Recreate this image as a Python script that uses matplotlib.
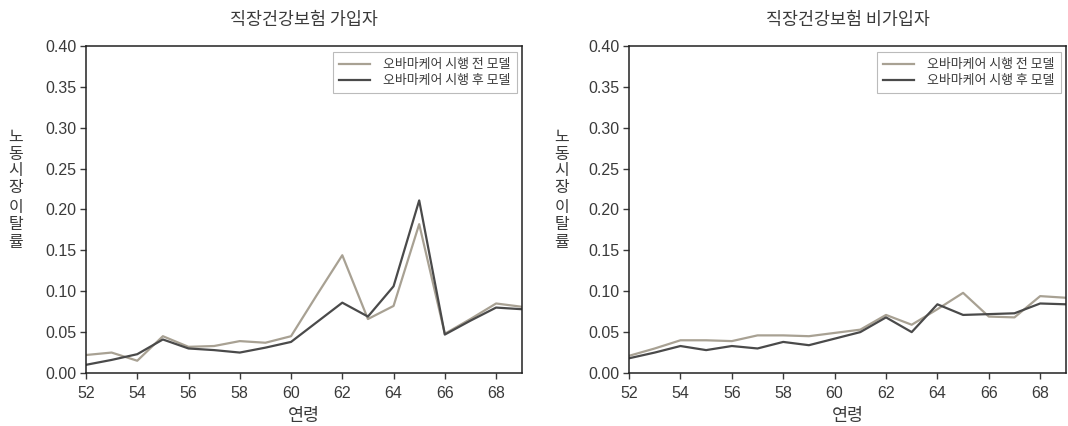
import numpy as np
import matplotlib
matplotlib.use("Agg")
import matplotlib.pyplot as plt

plt.rcParams['font.family'] = ['Liberation Sans', 'Noto Sans CJK KR']

ages = np.arange(52, 70)

# 직장건강보험 가입자
ins_before = [0.022, 0.025, 0.015, 0.045, 0.032, 0.033, 0.039, 0.037, 0.045,
              0.095, 0.144, 0.066, 0.082, 0.182, 0.048, 0.066, 0.085, 0.081]
ins_after = [0.010, 0.016, 0.023, 0.041, 0.030, 0.028, 0.025, 0.031, 0.038,
             0.062, 0.086, 0.069, 0.106, 0.211, 0.047, 0.064, 0.080, 0.078]

# 직장건강보험 비가입자
non_before = [0.021, 0.030, 0.040, 0.040, 0.039, 0.046, 0.046, 0.045, 0.049,
              0.053, 0.071, 0.059, 0.078, 0.098, 0.069, 0.068, 0.094, 0.092]
non_after = [0.018, 0.025, 0.033, 0.028, 0.033, 0.030, 0.038, 0.034, 0.042,
             0.050, 0.068, 0.050, 0.084, 0.071, 0.072, 0.073, 0.085, 0.084]

titles = ["직장건강보험 가입자", "직장건강보험 비가입자"]
labels = ["오바마케어 시행 전 모델", "오바마케어 시행 후 모델"]
ylabel = "노동시장 이탈률"
xlabel = "연령"

c_before = "#a8a193"
c_after = "#4a4a4a"
txt = "#3a3a3a"

W, H = 1068, 426
fig = plt.figure(figsize=(W / 100, H / 100), dpi=100)
ax1 = fig.add_axes([0.0805, 0.1244, 0.408, 0.768])
ax2 = fig.add_axes([0.589, 0.1244, 0.409, 0.768])


def stacked_label(x_px, top_px, text):
    # one character per row, upright, a bit of extra room for the space
    y = top_px
    for ch in text:
        if ch == " ":
            y += 3
            continue
        fig.text(x_px / W, 1 - y / H, ch, fontsize=11.5, color=txt,
                 ha='center', va='center', family='Noto Sans CJK KR')
        y += 17


for ax, title, before, after, lab_x in [(ax1, titles[0], ins_before, ins_after, 16),
                                         (ax2, titles[1], non_before, non_after, 562)]:
    ax.plot(ages, before, color=c_before, lw=1.6, label=labels[0])
    ax.plot(ages, after, color=c_after, lw=1.6, label=labels[1])
    ax.set_xlim(52, 69)
    ax.set_ylim(0, 0.40)
    ax.set_xticks(np.arange(52, 69, 2))
    yt = np.arange(0, 0.41, 0.05)
    ax.set_yticks(yt)
    ax.set_yticklabels([f"{v:.2f}" for v in yt])
    ax.tick_params(direction='out', length=4, width=1, colors=txt, labelsize=11.5)
    ax.tick_params(axis='x', pad=5)
    ax.tick_params(axis='y', pad=3)
    for s in ax.spines.values():
        s.set_color("#222222")
        s.set_linewidth(1.1)
    ax.set_title(title, fontsize=12.5, color=txt, pad=15, family='Noto Sans CJK KR')
    ax.set_xlabel(xlabel, fontsize=12.5, color=txt, labelpad=5, family='Noto Sans CJK KR')
    leg = ax.legend(loc='upper right', frameon=True, fancybox=False,
                    prop={'family': 'Noto Sans CJK KR', 'size': 9.3},
                    handlelength=2.4, handletextpad=1.0, borderpad=0.5,
                    labelspacing=0.22, borderaxespad=0,
                    bbox_to_anchor=(0.989, 0.982))
    leg.get_frame().set_edgecolor("#aaaaaa")
    leg.get_frame().set_linewidth(0.8)
    for t in leg.get_texts():
        t.set_color(txt)
    stacked_label(lab_x, 137, ylabel)

fig.savefig("out.png", dpi=100)
